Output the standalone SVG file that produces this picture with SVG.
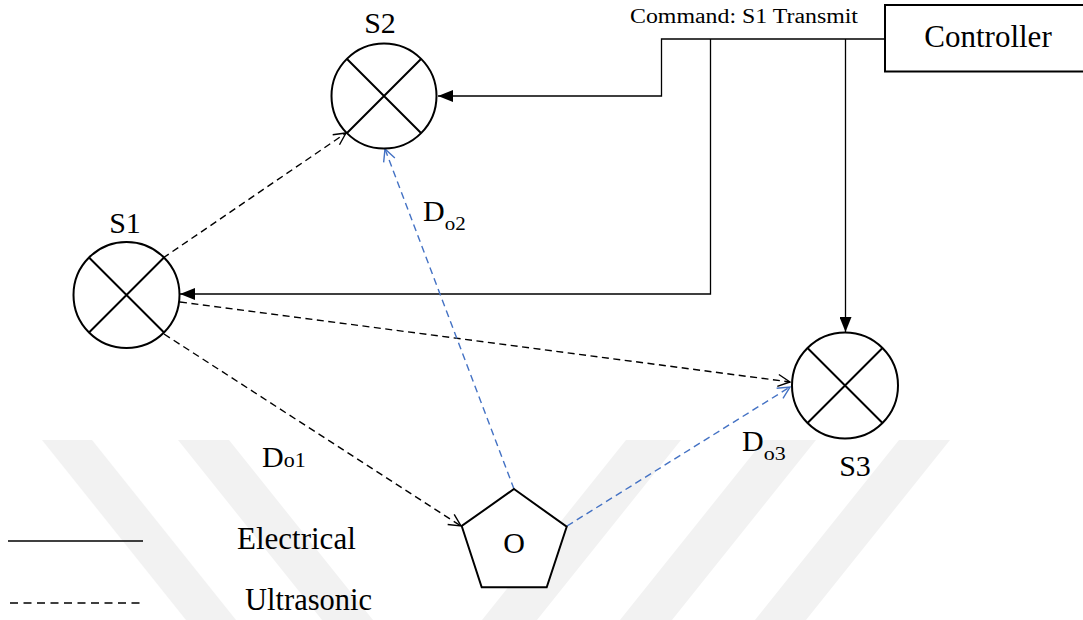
<svg xmlns="http://www.w3.org/2000/svg" width="1083" height="620" viewBox="0 0 1083 620">
<style>
.t{font-family:"Liberation Serif","Times New Roman",serif;fill:#000}
.big{font-size:30px}
.node{fill:#fff;stroke:#000;stroke-width:2}
.x{stroke:#000;stroke-width:2;fill:none}
.el{fill:none;stroke:#000;stroke-width:1.3}
.us{fill:none;stroke:#000;stroke-width:1.4;stroke-dasharray:7 4.5}
.ub{fill:none;stroke:#4472C4;stroke-width:1.4;stroke-dasharray:7 4.5}
.wm{fill:#f2f2f2}
</style>
<defs>
<marker id="fk" markerWidth="16" markerHeight="12" refX="15" refY="6" orient="auto" markerUnits="userSpaceOnUse"><path d="M0,0 L15,6 L0,12 Z" fill="#000"/></marker>
<marker id="ok" markerWidth="15" markerHeight="14" refX="13" refY="7" orient="auto" markerUnits="userSpaceOnUse"><path d="M1,1 L13,7 L1,13" fill="none" stroke="#000" stroke-width="1.4"/></marker>
<marker id="ob" markerWidth="15" markerHeight="14" refX="13" refY="7" orient="auto" markerUnits="userSpaceOnUse"><path d="M1,1 L13,7 L1,13" fill="none" stroke="#4472C4" stroke-width="1.4"/></marker>
</defs>
<rect width="1083" height="620" fill="#fff"/>
<g id="watermark">
<polygon class="wm" points="42,440 92,440 236,620 186,620"/>
<polygon class="wm" points="178,440 229,440 373,620 322,620"/>
<polygon class="wm" points="626,440 681,440 537,620 482,620"/>
<polygon class="wm" points="764,440 816,440 672,620 620,620"/>
<polygon class="wm" points="899,440 950,440 806,620 755,620"/>
</g>
<g id="connectors">
<path class="el" d="M885,39 H661.5 V96 H438" marker-end="url(#fk)"/>
<path class="el" d="M710.5,39 V294 H180" marker-end="url(#fk)"/>
<path class="el" d="M845.5,39 V332" marker-end="url(#fk)"/>
<path class="us" d="M163,258 L346,133" marker-end="url(#ok)"/>
<path class="us" d="M180,302 L790,382" marker-end="url(#ok)"/>
<path class="us" d="M164,334 L461,526" marker-end="url(#ok)"/>
<path class="ub" d="M514,489 L385,149" marker-end="url(#ob)"/>
<path class="ub" d="M567,526 L790,387" marker-end="url(#ob)"/>
</g>
<g id="S2">
<circle class="node" cx="384" cy="96" r="52.5"/>
<path class="x" d="M347,59 L421,133 M421,59 L347,133"/>
<text class="t big" x="380" y="33" text-anchor="middle">S2</text>
</g>
<g id="S1">
<circle class="node" cx="126.5" cy="295" r="53"/>
<path class="x" d="M89,257.5 L164,332.5 M164,257.5 L89,332.5"/>
<text class="t big" x="125" y="233" text-anchor="middle">S1</text>
</g>
<g id="S3">
<circle class="node" cx="845" cy="385.5" r="53"/>
<path class="x" d="M807.5,348 L882.5,423 M882.5,348 L807.5,423"/>
<text class="t big" x="855" y="476" text-anchor="middle">S3</text>
</g>
<g id="O">
<polygon class="node" points="514,489 566.7,526.7 546.7,587.3 481.7,587.3 461.7,526"/>
<text class="t big" x="514" y="553" text-anchor="middle">O</text>
</g>
<g id="Controller">
<rect class="node" x="885" y="5" width="200" height="66.5"/>
<text class="t" x="988" y="47" font-size="31" text-anchor="middle">Controller</text>
</g>
<g id="labels">
<text class="t" x="630" y="23" font-size="20" textLength="228" lengthAdjust="spacingAndGlyphs">Command: S1 Transmit</text>
<text class="t big" x="262" y="467">D<tspan font-size="22">o1</tspan></text>
<text class="t big" x="423" y="221">D<tspan font-size="19" dy="9" textLength="21" lengthAdjust="spacingAndGlyphs">o2</tspan></text>
<text class="t big" x="742" y="451">D<tspan font-size="19" dy="9" textLength="22" lengthAdjust="spacingAndGlyphs">o3</tspan></text>
</g>
<g id="legend">
<path class="el" d="M8,541 H143"/>
<path fill="none" stroke="#000" stroke-width="1.3" stroke-dasharray="8 5.5" d="M10,603 H145"/>
<text class="t" x="237" y="549" font-size="31">Electrical</text>
<text class="t" x="245" y="610" font-size="30.5">Ultrasonic</text>
</g>
</svg>
